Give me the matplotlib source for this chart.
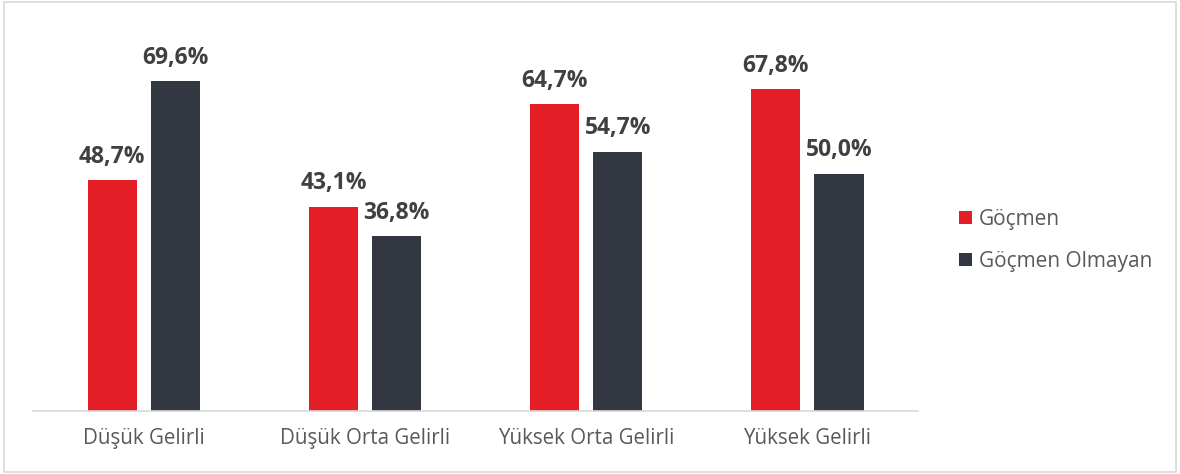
import matplotlib
matplotlib.use("Agg")
import matplotlib.pyplot as plt
from matplotlib.patches import Rectangle
import numpy as np

categories = ["Düşük Gelirli", "Düşük Orta Gelirli", "Yüksek Orta Gelirli", "Yüksek Gelirli"]
series_names = ["Göçmen", "Göçmen Olmayan"]
gocmen = [48.7, 43.1, 64.7, 67.8]
gocmen_olmayan = [69.6, 36.8, 54.7, 50.0]
colors = ["#E31E26", "#333741"]

plt.rcParams['font.family'] = ['Open Sans', 'DejaVu Sans']

fig = plt.figure(figsize=(11.8, 4.74), dpi=100)
fig.patch.set_facecolor("white")
fig.add_artist(Rectangle((0.003, 0.005), 0.994, 0.99, transform=fig.transFigure,
                         fill=False, edgecolor="#D9D9D9", linewidth=1.2))

ax = fig.add_axes([0.028, 0.133, 0.75, 0.8003])
x = np.arange(len(categories))
w = 0.222
off = 0.1425
for vals, name, col, sgn in [(gocmen, series_names[0], colors[0], -1),
                             (gocmen_olmayan, series_names[1], colors[1], 1)]:
    bars = ax.bar(x + sgn * off, vals, width=w, color=col, label=name)
    for b, v in zip(bars, vals):
        ax.text(b.get_x() + b.get_width() / 2, v + 2.4, f"{v:.1f}%".replace(".", ","),
                ha="center", va="bottom", fontsize=16.5, fontweight="bold", color="#404040")

ax.set_xlim(-0.5, 3.5)
ax.set_ylim(0, 80)
ax.set_xticks(x)
ax.set_xticklabels(categories, fontsize=14.8, color="#595959")
ax.tick_params(axis="x", length=0, pad=12)
ax.set_yticks([])
for s in ["top", "right", "left"]:
    ax.spines[s].set_visible(False)
ax.spines["bottom"].set_color("#D9D9D9")
ax.spines["bottom"].set_linewidth(1.2)

leg = ax.legend(loc="center left", bbox_to_anchor=(1.025, 0.45), frameon=False,
                fontsize=15, handlelength=0.62, handleheight=0.62, handletextpad=0.35,
                labelspacing=1.0, labelcolor="#595959")

fig.savefig("out.png", dpi=100)
